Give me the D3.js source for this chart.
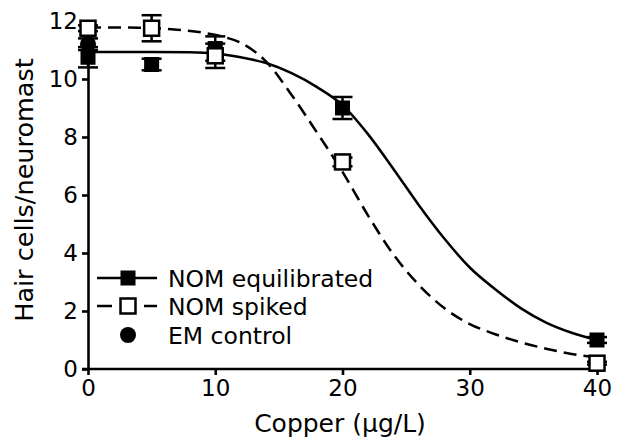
<!DOCTYPE html>
<meta charset="utf-8">
<style>
body { margin: 0; background: #fff; }
svg { font-family: "DejaVu Sans", sans-serif; }
.axis path, .axis line { stroke: #000; stroke-width: 2.6; fill: none; }
.axis text { font-size: 23px; fill: #000; }
</style>
<body>
<script src="https://d3js.org/d3.v7.min.js"></script>
<script>
// ---- data ----
var doses = [0, 5, 10, 20, 40];
var equilMean = [10.75, 10.5, 11.05, 9.0, 1.0];
var equilErr  = [0.35, 0.2, 0.42, 0.38, 0.1];
var spikedMean = [11.75, 11.75, 10.8, 7.14, 0.2];
var spikedErr  = [0.1, 0.45, 0.42, 0.15, 0.05];
var controlDose = [0];
var controlMean = [11.2];
var controlErr = [0.2];

// fitted curves as drawn (x, y)
var equilFitX = [0, 5, 8, 10, 12, 14, 16, 18, 20, 22, 24, 26, 28, 30, 32, 34, 36, 38, 40];
var equilFitY = [10.93, 10.93, 10.92, 10.88, 10.75, 10.55, 10.2, 9.72, 9.1, 8.1, 6.9, 5.65, 4.5, 3.5, 2.75, 2.1, 1.6, 1.25, 1.0];
var spikedFitX = [0, 4, 7, 9, 10.5, 12, 14, 16, 18, 20, 22, 24, 26, 28, 30, 32, 34, 36, 38, 40];
var spikedFitY = [11.78, 11.77, 11.7, 11.6, 11.47, 11.25, 10.6, 9.45, 8.15, 6.8, 5.3, 3.95, 2.9, 2.1, 1.55, 1.2, 0.92, 0.7, 0.52, 0.4];

var xTicks = [0, 10, 20, 30, 40];
var yTicks = [0, 2, 4, 6, 8, 10, 12];
var legendLabels = ["NOM equilibrated", "NOM spiked", "EM control"];

var W = 618, H = 442;
var x = d3.scaleLinear().domain([0, 40]).range([88, 597]);
var y = d3.scaleLinear().domain([0, 12]).range([369, 21]);

var svg = d3.select("body").append("svg")
    .attr("width", W)
    .attr("height", H);

// axes
svg.append("g")
    .attr("class", "axis")
    .attr("transform", "translate(0," + y(0) + ")")
    .call(d3.axisBottom(x).tickValues(xTicks).tickSize(6).tickSizeOuter(0).tickPadding(5))
    .call(function(g) { g.select(".domain").attr("d", "M82,0H597"); });

svg.append("g")
    .attr("class", "axis")
    .attr("transform", "translate(" + x(0) + ",0)")
    .call(d3.axisLeft(y).tickValues(yTicks).tickSize(6).tickSizeOuter(0).tickPadding(4));

svg.selectAll(".axis text").attr("font-family", "DejaVu Sans");

// axis titles
svg.append("text")
    .attr("x", 340).attr("y", 432)
    .attr("text-anchor", "middle")
    .attr("font-size", 25)
    .text("Copper (µg/L)");

svg.append("text")
    .attr("transform", "translate(33,190) rotate(-90)")
    .attr("text-anchor", "middle")
    .attr("font-size", 25.5)
    .text("Hair cells/neuromast");

// fit lines
var line = d3.line()
    .x(function(d) { return x(d[0]); })
    .y(function(d) { return y(d[1]); })
    .curve(d3.curveMonotoneX);

svg.append("path")
    .datum(d3.zip(equilFitX, equilFitY))
    .attr("d", line)
    .attr("fill", "none").attr("stroke", "#000").attr("stroke-width", 2.5);

svg.append("path")
    .datum(d3.zip(spikedFitX, spikedFitY))
    .attr("d", line)
    .attr("fill", "none").attr("stroke", "#000").attr("stroke-width", 2.5)
    .attr("stroke-dasharray", "13,7");

// error bars + markers
function errBars(xs, means, errs) {
  var g = svg.append("g").attr("stroke", "#000").attr("stroke-width", 2.5);
  xs.forEach(function(d, i) {
    var lo = y(means[i] - errs[i]), hi = y(means[i] + errs[i]), cx = x(d);
    g.append("line").attr("x1", cx).attr("x2", cx).attr("y1", lo).attr("y2", hi);
    g.append("line").attr("x1", cx - 10).attr("x2", cx + 10).attr("y1", lo).attr("y2", lo);
    g.append("line").attr("x1", cx - 10).attr("x2", cx + 10).attr("y1", hi).attr("y2", hi);
  });
}

errBars(doses, equilMean, equilErr);
svg.append("g").selectAll("rect")
    .data(doses)
  .enter().append("rect")
    .attr("x", function(d) { return x(d) - 7.5; })
    .attr("y", function(d, i) { return y(equilMean[i]) - 7.5; })
    .attr("width", 15).attr("height", 15)
    .attr("fill", "#000");

errBars(controlDose, controlMean, controlErr);
svg.append("g").selectAll("circle")
    .data(controlDose)
  .enter().append("circle")
    .attr("cx", function(d) { return x(d); })
    .attr("cy", function(d, i) { return y(controlMean[i]); })
    .attr("r", 8)
    .attr("fill", "#000");

errBars(doses, spikedMean, spikedErr);
svg.append("g").selectAll("rect")
    .data(doses)
  .enter().append("rect")
    .attr("x", function(d) { return x(d) - 7.5; })
    .attr("y", function(d, i) { return y(spikedMean[i]) - 7.5; })
    .attr("width", 15).attr("height", 15)
    .attr("fill", "#fff").attr("stroke", "#000").attr("stroke-width", 2.5);

// legend
var leg = svg.append("g");
var rowY = [278, 306, 335];
legendLabels.forEach(function(lab, i) {
  var ly = rowY[i];
  if (i === 0) {
    leg.append("line").attr("x1", 97).attr("x2", 157).attr("y1", ly).attr("y2", ly)
      .attr("stroke", "#000").attr("stroke-width", 2.5);
    leg.append("rect").attr("x", 120.5).attr("y", ly - 7.5).attr("width", 15).attr("height", 15).attr("fill", "#000");
  } else if (i === 1) {
    leg.append("line").attr("x1", 97).attr("x2", 112).attr("y1", ly).attr("y2", ly)
      .attr("stroke", "#000").attr("stroke-width", 2.5);
    leg.append("line").attr("x1", 144).attr("x2", 157).attr("y1", ly).attr("y2", ly)
      .attr("stroke", "#000").attr("stroke-width", 2.5);
    leg.append("rect").attr("x", 120.5).attr("y", ly - 7.5).attr("width", 15).attr("height", 15)
      .attr("fill", "#fff").attr("stroke", "#000").attr("stroke-width", 2.5);
  } else {
    leg.append("circle").attr("cx", 128).attr("cy", ly).attr("r", 8).attr("fill", "#000");
  }
  leg.append("text").attr("x", 168).attr("y", ly + 8.5)
    .attr("font-size", 23.5)
    .text(lab);
});
</script>
</body>
